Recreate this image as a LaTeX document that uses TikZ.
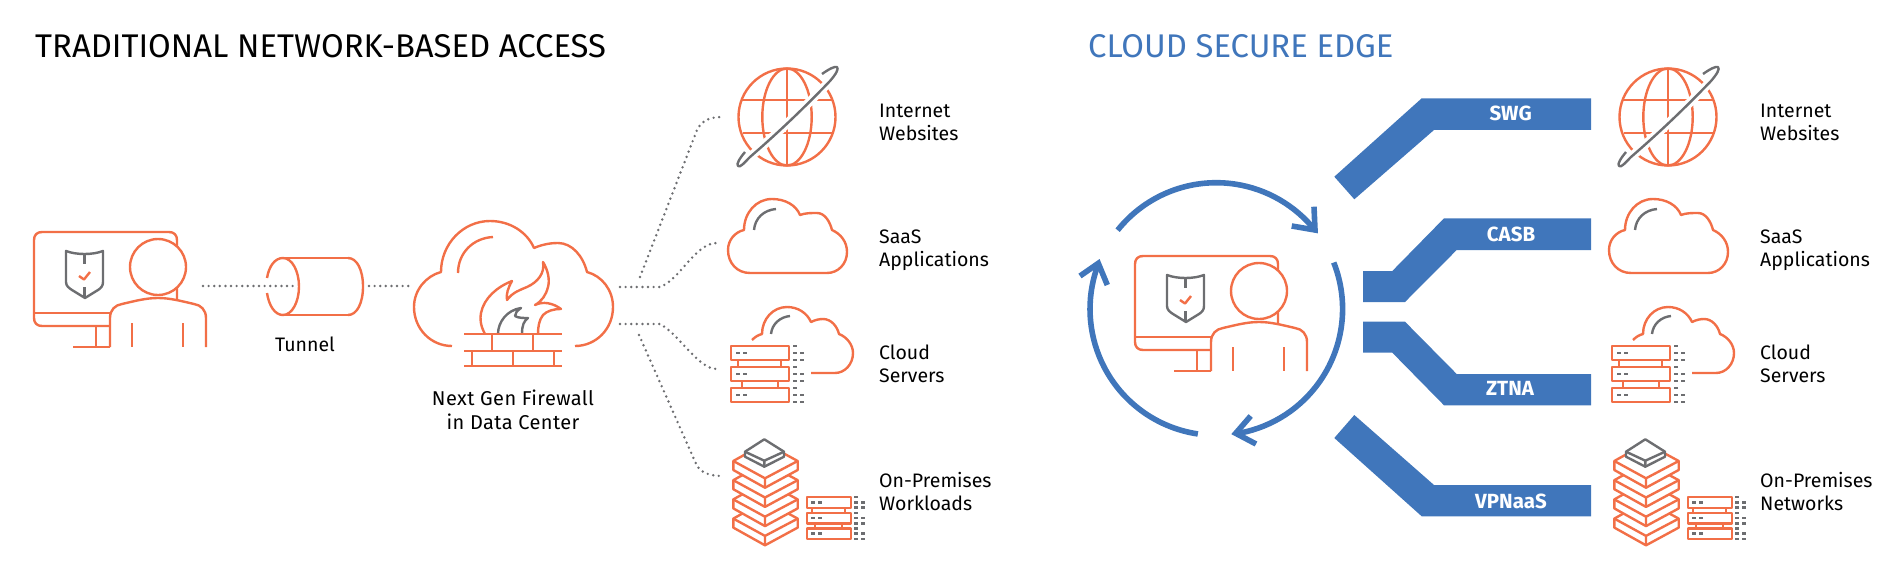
\documentclass[tikz,border=0pt]{standalone}
\usepackage{fontspec}
\setmainfont{Fira Sans}
\definecolor{org}{HTML}{F26F47}
\definecolor{gry}{HTML}{6D6E71}
\definecolor{blu}{HTML}{4076BB}
\tikzset{
  ol/.style={draw=org,line width=2.4pt,line join=round},
  gl/.style={draw=gry,line width=2.4pt,line join=round},
  dotline/.style={draw=gry,line width=2.7pt,line cap=round,dash pattern=on 0pt off 5.6pt},
  lbl/.style={anchor=west,align=left,inner sep=0pt,font=\fontsize{19.5}{23}\selectfont},
  clbl/.style={anchor=center,align=center,inner sep=0pt,font=\fontsize{19.5}{23}\selectfont},
  band/.style={fill=blu,draw=none},
  bandtxt/.style={anchor=center,inner sep=0pt,text=white,font=\fontsize{20.5}{22}\selectfont\bfseries},
  cyc/.style={draw=blu,line width=5.6pt,line cap=butt,line join=miter},
  ttl/.style={anchor=west,inner sep=0pt,font=\fontsize{32.8}{36}\selectfont},
}
\newcommand{\usericon}[2]{\begin{scope}[shift={(#1,#2)}]
  \draw[ol] (42,232) -- (169,232) .. controls (174,232) and (177,235) .. (177,240) -- (177,299);
  \draw[ol] (42,232) .. controls (37,232) and (34,235) .. (34,240) -- (34,318) .. controls (34,323) and (37,326) .. (42,326) -- (110,326);
  \draw[ol] (34,313) -- (110,313);
  \draw[ol] (96,326) -- (96,347);
  \draw[ol] (73,347) -- (110,347);
  \draw[ol,fill=white] (110,347) -- (110,318) .. controls (110,310) and (115,305) .. (122,304) .. controls (135,301) and (146,298) .. (158,298) .. controls (170,298) and (181,301) .. (194,304) .. controls (201,305) and (206,310) .. (206,318) -- (206,347);
  \draw[ol] (132,323) -- (132,347);
  \draw[ol] (183,323) -- (183,347);
  \draw[ol,fill=white] (158,267) circle[radius=28];
  \draw[gl] (66,251) .. controls (76,255) and (93,255) .. (103,251) -- (103,282) .. controls (103,286) and (101,288) .. (98,290) -- (85,298) -- (72,290) .. controls (69,288) and (66,286) .. (66,282) -- cycle;
  \draw[gl] (84.5,255) -- (84.5,264);
  \draw[gl] (84.5,287) -- (84.5,298);
  \draw[ol] (79,276) -- (84,279.5) -- (90,272);
\end{scope}}
\newcommand{\globeicon}[2]{\begin{scope}[shift={(#1,#2)}]
  \draw[ol] (787,117) circle[radius=48.5];
  \draw[ol] (787,117) ellipse[x radius=24.7,y radius=48.5];
  \draw[ol] (787,68.5) -- (787,165.5);
  \draw[ol] (742,100) -- (832,100);
  \draw[ol] (743,133) -- (832,133);
  \draw[draw=white,line width=9pt] (830,81) .. controls (805,107) and (780,131) .. (750,157);
  \draw[gl] (822,74) .. controls (829,69) and (835,66) .. (837,67) .. controls (839,69) and (836,74) .. (830,81) .. controls (805,107) and (780,131) .. (750,157) .. controls (744,163) and (740,168) .. (738,166) .. controls (736,164) and (740,158) .. (745,152);
\end{scope}}
\newcommand{\saasicon}[2]{\begin{scope}[shift={(#1,#2)}]
  \draw[ol] (750,273) .. controls (737,273) and (728,263) .. (728,250) .. controls (728,240) and (735,232) .. (744,230) .. controls (744,213) and (756,199) .. (772,199) .. controls (785,199) and (796,205) .. (800,215) .. controls (805,213) and (811,213) .. (817,213) .. controls (825,213) and (830,222) .. (832,230) .. controls (841,234) and (847,242) .. (847,252) .. controls (847,264) and (838,273) .. (827,273) -- cycle;
  \draw[gl] (754,230) .. controls (755,218) and (764,210) .. (776,209);
\end{scope}}
\newcommand{\rackrow}[7]{% x,y,w,h,dashx,colx,rowstep
  \draw[ol,fill=white] (#1,#2) rectangle ++(#3,#4);
  \draw[gl,line cap=butt] (#5,#2+#4*0.5) -- ++(3.5,0) ++(3.5,0) -- ++(3.5,0);
  \draw[gl,line cap=butt] (#6,#2) -- ++(3.5,0);
  \draw[gl,line cap=butt] (#6,#2+#7) -- ++(3.5,0) ++(3.5,0) -- ++(4,0);
  \draw[gl,line cap=butt] (#6,#2+#7*2) -- ++(3.5,0) ++(3.5,0) -- ++(4,0);
}
\newcommand{\cloudsrv}[2]{\begin{scope}[shift={(#1,#2)}]
  \draw[ol] (752,340) .. controls (755,337) and (758,335) .. (762,334) .. controls (762,319) and (773,307) .. (787,307) .. controls (798,307) and (807,313) .. (811,322) .. controls (815,320) and (819,319) .. (823,319) .. controls (831,319) and (837,326) .. (839,334) .. controls (847,337) and (853,345) .. (853,353) .. controls (853,364) and (845,373) .. (835,373) -- (811,373);
  \draw[gl] (771,334) .. controls (772,324) and (780,317) .. (790,316);
  \draw[ol] (738,360) -- (738,367) (781,360) -- (781,367) (742,381) -- (742,388) (778,381) -- (778,388);
  \rackrow{731}{346}{58}{14}{736}{793}{7}
  \rackrow{731}{367}{58}{14}{736}{793}{7}
  \rackrow{731}{388}{58}{14}{736}{793}{7}
\end{scope}}
\newcommand{\stacklayer}[1]{\begin{scope}[yshift={#1*-1pt}]
  \draw[ol,fill=white] (733.3,461) -- (765,443.3) -- (797.7,461) -- (797.7,470) -- (765,487.7) -- (733.3,470) -- cycle;
  \draw[ol] (733.3,461) -- (765,478.3) -- (797.7,461) (765,478.3) -- (765,487.7);
\end{scope}}
\newcommand{\premicon}[2]{\begin{scope}[shift={(#1,#2)}]
  \stacklayer{57.6}\stacklayer{38.4}\stacklayer{19.2}\stacklayer{0}
  \draw[gl,fill=white] (764.3,439.3) -- (784,451.7) -- (784,456.7) -- (764.3,466.7) -- (745,456.7) -- (745,451.7) -- cycle;
  \draw[gl] (745,451.7) -- (764.3,460.7) -- (784,451.7) (764.3,460.7) -- (764.3,466.7);
  \draw[ol] (812,507.7) -- (812,512.7) (845,507.7) -- (845,512.7) (815,523.3) -- (815,528.3) (842,523.3) -- (842,528.3);
  \rackrow{806.7}{497}{44}{10.7}{811}{854}{5.3}
  \rackrow{806.7}{512.7}{44}{10.7}{811}{854}{5.3}
  \rackrow{806.7}{528.3}{44}{10.7}{811}{854}{5.3}
\end{scope}}
\begin{document}
\begin{tikzpicture}[x=1pt,y=-1pt]
\useasboundingbox (0,0) rectangle (1900,575);
% titles
\node[ttl] (title1) at (35,46) {TRADITIONAL NETWORK-BASED ACCESS};
\node[ttl,text=blu] (title2) at (1088,46) {CLOUD SECURE EDGE};
% left user, tunnel
\usericon{0}{0}
\coordinate (u1) at (203,286);
\coordinate (t1) at (293,286);
\coordinate (t2) at (369,286);
\coordinate (f0) at (412,286);
\draw[ol] (348,258) -- (283,258);
\draw[ol] (348,315) -- (283,315);
\draw[ol] (348,258) .. controls (357,258) and (363,270) .. (363,286.5) .. controls (363,303) and (357,315) .. (348,315);
\draw[ol] (267,278) .. controls (269,266) and (275,258) .. (283,258) .. controls (292,258) and (299,271) .. (299,286.5) .. controls (299,302) and (292,315) .. (283,315) .. controls (275,315) and (269,306) .. (267,293);
\draw[dotline] (u1) -- (t1);
\draw[dotline] (t2) -- (f0);
\node[clbl] (tunnel) at (305,344) {Tunnel};
% firewall
\draw[ol] (452,346) .. controls (431,346) and (414,329) .. (414,307) .. controls (414,290) and (426,276) .. (441,272) .. controls (441,244) and (463,221) .. (490,221) .. controls (510,221) and (527,232) .. (534,248) .. controls (541,245) and (549,243) .. (558,243) .. controls (572,243) and (583,256) .. (587,272) .. controls (602,276) and (613,290) .. (613,307) .. controls (613,329) and (596,346) .. (575,346);
\draw[ol] (458,273) .. controls (458,253) and (473,238) .. (493,237);
\draw[ol] (485,334) .. controls (480,325) and (480,318) .. (481,313) .. controls (484,298) and (497,287) .. (512,281) .. controls (508,288) and (506,294) .. (507,300) .. controls (513,292) and (520,290) .. (527,287) .. controls (538,282) and (545,273) .. (543,262) .. controls (548,270) and (550,280) .. (548,287) .. controls (546,295) and (542,301) .. (535,305) .. controls (543,301) and (553,303) .. (561,309) .. controls (553,309) and (547,311) .. (543,315) .. controls (539,320) and (538,327) .. (538,334);
\draw[gl] (498,334) .. controls (498,322) and (507,310) .. (521,308) .. controls (517,311) and (515,313) .. (515,316) .. controls (518,318) and (523,318) .. (528,318) .. controls (524,321) and (522,325) .. (522,334);
\draw[ol] (464,334) -- (562,334) (464,351) -- (562,351) (464,366) -- (562,366);
\draw[ol] (492,334) -- (492,351) (533,334) -- (533,351) (472,351) -- (472,366) (513,351) -- (513,366) (554,351) -- (554,366);
\node[clbl,font=\fontsize{20}{23.5}\selectfont\addfontfeatures{LetterSpace=2}] (fw) at (513,410) {Next Gen Firewall\\in Data Center};
% dotted connectors
\coordinate (a0) at (640,277);
\coordinate (a1) at (723,117);
\coordinate (b0) at (620,287);
\coordinate (b1) at (717,243);
\coordinate (c0) at (620,324);
\coordinate (c1) at (717,369);
\coordinate (d0) at (639,335);
\coordinate (d1) at (723,476);
\draw[dotline] (a0) -- (697,130) .. controls (702,120) and (710,117) .. (a1);
\draw[dotline] (b0) -- (660,287) .. controls (680,280) and (695,243) .. (b1);
\draw[dotline] (c0) -- (660,324) .. controls (680,335) and (698,369) .. (c1);
\draw[dotline] (d0) -- (697,466) .. controls (702,473) and (710,476) .. (d1);
% left icons
\globeicon{0}{0}\saasicon{0}{0}\cloudsrv{0}{0}\premicon{0}{0}
\node[lbl] (l1) at (879,122.5) {Internet\\Websites};
\node[lbl] (l2) at (879,250.5) {SaaS\\Applications};
\node[lbl] (l3) at (879,364) {Cloud\\Servers};
\node[lbl] (l4) at (879,491.5) {On-Premises\\Workloads};
% right: bands
\fill[band] (1591,98.3) -- (1421.7,98.3) -- (1334.3,176.7) -- (1354.3,199.3) -- (1434,130) -- (1591,130) -- cycle;
\fill[band] (1591,218.3) -- (1444,218.3) -- (1392.3,271) -- (1363,271) -- (1363,302) -- (1405,302) -- (1456.7,250) -- (1591,250) -- cycle;
\fill[band] (1363,321.7) -- (1405,321.7) -- (1456.7,374) -- (1591,374) -- (1591,405.3) -- (1444,405.3) -- (1392.3,352.7) -- (1363,352.7) -- cycle;
\fill[band] (1354.3,415) -- (1434,485) -- (1591,485) -- (1591,516.3) -- (1421.7,516.3) -- (1334.3,438) -- cycle;
\node[bandtxt] (swg) at (1510.7,113.5) {SWG};
\node[bandtxt] (casb) at (1511,234) {CASB};
\node[bandtxt] (ztna) at (1510,388.5) {ZTNA};
\node[bandtxt] (vpn) at (1511,501.7) {VPNaaS};
% cycle arrows
\coordinate (cc) at (1216.3,309);
\draw[cyc] (cc) ++(218.6:126.3) arc[start angle=218.6,end angle=321.3,radius=126.3];
\draw[cyc] (cc) ++(-21.6:126.3) arc[start angle=-21.6,end angle=81.1,radius=126.3];
\draw[cyc] (cc) ++(98.4:126.3) arc[start angle=98.4,end angle=201.2,radius=126.3];
\draw[cyc] (1314,206.7) -- (1315,230) -- (1291.7,226);
\draw[cyc] (1250.7,416) -- (1235.7,433.3) -- (1256,444);
\draw[cyc] (1080,276) -- (1098.3,263.3) -- (1107.3,285);
\usericon{1101}{24}
% right icons
\globeicon{881}{0}\saasicon{881}{0}\cloudsrv{881}{0}\premicon{881}{0}
\node[lbl] (r1) at (1760,122.5) {Internet\\Websites};
\node[lbl] (r2) at (1760,250.5) {SaaS\\Applications};
\node[lbl] (r3) at (1760,364) {Cloud\\Servers};
\node[lbl] (r4) at (1760,491.5) {On-Premises\\Networks};
\end{tikzpicture}
\end{document}
